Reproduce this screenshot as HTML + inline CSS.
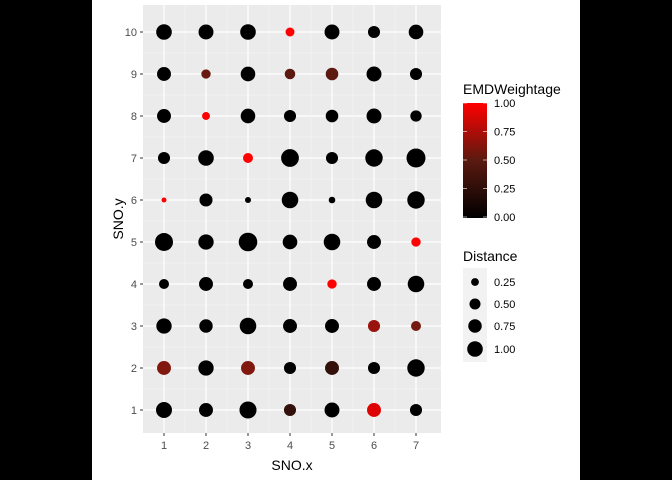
<!DOCTYPE html>
<html><head><meta charset="utf-8"><style>
body{margin:0;background:#000;}
svg{display:block;font-family:"Liberation Sans",sans-serif;}
</style></head><body>
<svg width="672" height="480">
<defs><linearGradient id="cg" x1="0" y1="1" x2="0" y2="0">
<stop offset="0" stop-color="#000"/><stop offset="0.5" stop-color="#5a1a10"/><stop offset="1" stop-color="#ff0000"/></linearGradient></defs>
<rect x="92" y="0" width="488" height="480" fill="#fff"/>
<rect x="143" y="5" width="298" height="428" fill="#ebebeb"/>
<g id="grid"></g><g id="pts"></g><g id="ticks"></g>
<text x="292" y="470" text-anchor="middle" font-size="14" fill="#000">SNO.x</text>
<text transform="translate(123,219) rotate(-90)" text-anchor="middle" font-size="14" fill="#000">SNO.y</text>
<g>
<text x="463" y="94" font-size="14">EMDWeightage</text>
<rect x="463" y="103" width="24" height="115" fill="url(#cg)"/>
<g id="cbl"></g></g>
<g>
<text x="463" y="261" font-size="14">Distance</text>
<rect x="463" y="268" width="24" height="94" fill="#f2f2f2"/>
<g id="szl"></g></g>
</svg>
<script>
const xCats=[1,2,3,4,5,6,7];
const yCats=[1,2,3,4,5,6,7,8,9,10];
// distance[yIndex][xIndex], y=1..10
const distance=[
[1.05,0.8,1.2,0.6,0.92,0.8,0.6],
[0.8,0.97,0.8,0.6,0.8,0.6,1.25],
[0.97,0.74,1.13,0.8,0.8,0.6,0.41],
[0.41,0.8,0.41,0.8,0.36,0.8,1.13],
[1.33,0.97,1.42,0.88,1.13,0.8,0.36],
[0.1,0.7,0.15,1.13,0.18,1.13,1.25],
[0.6,1.0,0.41,1.3,0.6,1.25,1.48],
[0.8,0.26,0.88,0.6,0.65,0.92,0.53],
[0.8,0.36,0.88,0.46,0.65,0.92,0.6],
[1.0,0.92,1.0,0.33,0.92,0.6,0.88]];
const weight=[
[0,0,0,0.15,0,0.85,0],
[0.45,0,0.45,0,0.15,0,0],
[0,0,0,0,0,0.55,0.4],
[0,0,0,0,1,0,0],
[0,0,0,0,0,0,1],
[1,0,0,0,0,0,0],
[0,0,1,0,0,0,0],
[0,1,0,0,0,0,0],
[0,0.35,0,0.3,0.3,0,0],
[0,0,0,1,0,0,0]];
const colorTicks=[0,0.25,0.5,0.75,1];
const sizeTicks=[0.25,0.5,0.75,1];
const NS='http://www.w3.org/2000/svg';
const xs=v=>164+(v-1)*42, ys=v=>410-(v-1)*42;
const rs=d=>7.8*Math.sqrt(d);
function col(t){const r=Math.round(255*Math.pow(t,0.85)),g=Math.round(30*Math.sin(Math.PI*t)*(1-t)*1.5),b=Math.round(g*0.6);return `rgb(${r},${g},${b})`;}
function mk(tag,a,p){const e=document.createElementNS(NS,tag);for(const k in a)e.setAttribute(k,a[k]);p.appendChild(e);return e;}
const G=document.getElementById('grid'),P=document.getElementById('pts'),T=document.getElementById('ticks');
for(let i=0;i<xCats.length-1;i++){const l=mk('line',{x1:xs(xCats[i]+0.5),x2:xs(xCats[i]+0.5),y1:5,y2:433,stroke:'#f5f5f5','stroke-width':0.6},G);

}
for(let i=0;i<yCats.length-1;i++){const l=mk('line',{y1:ys(yCats[i]+0.5),y2:ys(yCats[i]+0.5),x1:143,x2:441,stroke:'#f5f5f5','stroke-width':0.6},G);

}
xCats.forEach(v=>{const l=mk('line',{x1:xs(v),x2:xs(v),y1:5,y2:433,stroke:'#fff','stroke-width':1.2},G);


const t=mk('line',{x1:xs(v),x2:xs(v),y1:433,y2:436,stroke:'#333'},T);


const s=mk('text',{x:xs(v),y:449,'text-anchor':'middle','font-size':11,fill:'#4d4d4d'},T);s.textContent=v;

});
yCats.forEach(v=>{const l=mk('line',{y1:ys(v),y2:ys(v),x1:143,x2:441,stroke:'#fff','stroke-width':1.2},G);


const t=mk('line',{x1:140,x2:143,y1:ys(v),y2:ys(v),stroke:'#333'},T);


const s=mk('text',{x:137,y:ys(v)+4,'text-anchor':'end','font-size':11,fill:'#4d4d4d'},T);s.textContent=v;

});
yCats.forEach((yv,yi)=>xCats.forEach((xv,xi)=>{const c=mk('circle',{cx:xs(xv),cy:ys(yv),r:rs(distance[yi][xi]),fill:col(weight[yi][xi])},P);

}));
const CB=document.getElementById('cbl');
colorTicks.forEach(v=>{const y=217-v*114;
const l=mk('line',{x1:463,x2:467,y1:y,y2:y,stroke:'#fff','stroke-opacity':0.6},CB);


const l2=mk('line',{x1:483,x2:487,y1:y,y2:y,stroke:'#fff','stroke-opacity':0.6},CB);


const s=mk('text',{x:494,y:y+4,'font-size':11,fill:'#000'},CB);s.textContent=v.toFixed(2);

});
const SZ=document.getElementById('szl');
sizeTicks.forEach((v,i)=>{const y=[282,304,326,349][i];
const c=mk('circle',{cx:475,cy:y,r:rs(v),fill:'#000'},SZ);


const s=mk('text',{x:494,y:y+4,'font-size':11,fill:'#000'},SZ);s.textContent=v.toFixed(2);

});
</script>
</body></html>
